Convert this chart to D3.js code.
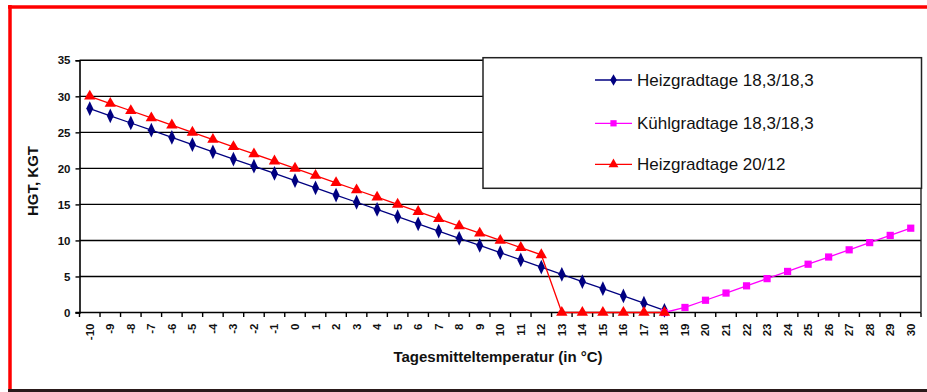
<!DOCTYPE html>
<html><head><meta charset="utf-8">
<script src="https://cdn.jsdelivr.net/npm/d3@7"></script>
<style>
html,body{margin:0;padding:0;background:#fff;}
svg{display:block;font-family:"Liberation Sans",Arial,sans-serif;}
</style></head>
<body><svg id="c" width="927" height="392"></svg>
<script>
const categories = ["-10","-9","-8","-7","-6","-5","-4","-3","-2","-1","0","1","2","3","4","5","6","7","8","9","10","11","12","13","14","15","16","17","18","19","20","21","22","23","24","25","26","27","28","29","30"];
const heizgradtage183 = [28.3,27.3,26.3,25.3,24.3,23.3,22.3,21.3,20.3,19.3,18.3,17.3,16.3,15.3,14.3,13.3,12.3,11.3,10.3,9.3,8.3,7.3,6.3,5.3,4.3,3.3,2.3,1.3,0.3,null,null,null,null,null,null,null,null,null,null,null,null];
const kuehlgradtage183 = [null,null,null,null,null,null,null,null,null,null,null,null,null,null,null,null,null,null,null,null,null,null,null,null,null,null,null,null,0,0.7,1.7,2.7,3.7,4.7,5.7,6.7,7.7,8.7,9.7,10.7,11.7];
const heizgradtage2012 = [30,29,28,27,26,25,24,23,22,21,20,19,18,17,16,15,14,13,12,11,10,9,8,0,0,0,0,0,0,null,null,null,null,null,null,null,null,null,null,null,null];
const yTicks = [0,5,10,15,20,25,30,35];
const seriesNames = ["Heizgradtage 18,3/18,3","Kühlgradtage 18,3/18,3","Heizgradtage 20/12"];
const yTitle = "HGT, KGT";
const xTitle = "Tagesmitteltemperatur (in °C)";

const svg = d3.select("#c");
const L = 79.5, R = 921, T = 60.3, B = 312.5;
const x = d3.scaleBand().domain(categories).range([L, R]).paddingInner(0).paddingOuter(0);
const y = d3.scaleLinear().domain([0, 35]).range([B, T]);

// frame
svg.append("line").attr("x1",8).attr("x2",927).attr("y1",7).attr("y2",7).attr("stroke","#ff0000").attr("stroke-width",3.5);
svg.append("line").attr("x1",10).attr("x2",10).attr("y1",5).attr("y2",390).attr("stroke","#ff0000").attr("stroke-width",3.5);
svg.append("line").attr("x1",8).attr("x2",927).attr("y1",390.5).attr("y2",390.5).attr("stroke","#2a1a1a").attr("stroke-width",3);

// gridlines
svg.append("g").selectAll("line").data(yTicks.filter(d=>d>0)).join("line")
  .attr("x1", L).attr("x2", R).attr("y1", d=>y(d)).attr("y2", d=>y(d))
  .attr("stroke","#000").attr("stroke-width",1.4);
// plot area right border
svg.append("line").attr("x1",R).attr("x2",R).attr("y1",T).attr("y2",B).attr("stroke","#222").attr("stroke-width",1.4);

// y axis
const yAxis = d3.axisLeft(y).tickValues(yTicks).tickSize(4).tickPadding(5);
const gy = svg.append("g").attr("transform",`translate(${L},0)`).call(yAxis);
gy.select(".domain").attr("stroke","#000").attr("stroke-width",1.6);
gy.selectAll(".tick line").attr("stroke","#000").attr("stroke-width",1.4);
gy.selectAll("text").attr("font-size","11.5px").attr("font-weight","bold").attr("fill","#111")
  .attr("font-family","'Liberation Sans',Arial,sans-serif");

// x axis
const gx = svg.append("g").attr("transform",`translate(0,${B})`);
gx.append("line").attr("x1",L-4).attr("x2",R).attr("y1",0).attr("y2",0).attr("stroke","#000").attr("stroke-width",1.6);
const bounds = categories.map(c=>x(c)).concat([R]);
gx.selectAll("line.tk").data(bounds).join("line").attr("class","tk")
  .attr("x1",d=>d).attr("x2",d=>d).attr("y1",0).attr("y2",4.5).attr("stroke","#000").attr("stroke-width",1.4);
gx.selectAll("text").data(categories).join("text")
  .attr("transform", d=>`translate(${x(d)+x.bandwidth()/2+4},${11}) rotate(-90)`)
  .attr("text-anchor","end").attr("font-size","11.5px").attr("font-weight","bold").attr("fill","#111")
  .text(d=>d);

// titles
svg.append("text").attr("transform",`translate(38,181) rotate(-90)`).attr("text-anchor","middle")
  .attr("font-size","15px").attr("font-weight","bold").attr("fill","#111").text(yTitle);
svg.append("text").attr("x",498).attr("y",362).attr("text-anchor","middle")
  .attr("font-size","15px").attr("font-weight","bold").attr("fill","#111").text(xTitle);

// series
const colors = ["#000080","#ff00ff","#ff0000"];
const data = [heizgradtage183, kuehlgradtage183, heizgradtage2012];
const cx = i => x(categories[i]) + x.bandwidth()/2;
const symbols = [d3.symbolDiamond, d3.symbolSquare, d3.symbolTriangle];
const sizes = [52, 52, 56];
data.forEach((vals, si) => {
  const pts = vals.map((v,i)=>({i,v})).filter(p=>p.v!==null);
  const line = d3.line().x(p=>cx(p.i)).y(p=>y(p.v));
  svg.append("path").attr("d", line(pts)).attr("fill","none").attr("stroke",colors[si]).attr("stroke-width",1.3);
  svg.append("g").selectAll("path").data(pts).join("path")
    .attr("transform", p=>`translate(${cx(p.i)},${y(p.v)})${si===0?" scale(0.9,1.1)":""}`)
    .attr("d", d3.symbol().type(symbols[si]).size(sizes[si]))
    .attr("fill", colors[si]);
});

// legend
const lg = svg.append("g");
lg.append("rect").attr("x",483).attr("y",57.7).attr("width",921.5-483).attr("height",188.3-57.7)
  .attr("fill","#fff").attr("stroke","#222").attr("stroke-width",1.5);
const rowY = [80, 123.3, 164.3];
seriesNames.forEach((name, si) => {
  lg.append("line").attr("x1",595).attr("x2",632).attr("y1",rowY[si]).attr("y2",rowY[si])
    .attr("stroke",colors[si]).attr("stroke-width",1.3);
  lg.append("path").attr("transform",`translate(613.5,${rowY[si]})`)
    .attr("d", d3.symbol().type(symbols[si]).size(sizes[si]*0.75)).attr("fill",colors[si]);
  lg.append("text").attr("x",637).attr("y",rowY[si]+6).attr("font-size","17px").attr("fill","#111").text(name);
});
</script></body></html>
